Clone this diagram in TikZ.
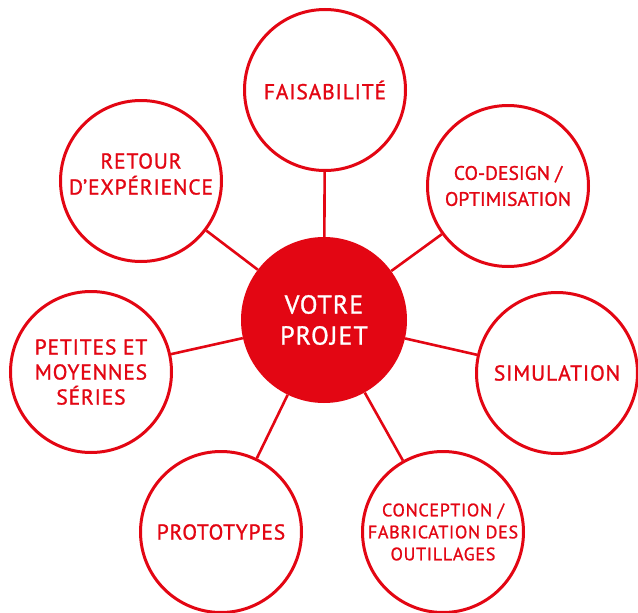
\documentclass[tikz,border=0pt]{standalone}
\usepackage{fontspec}
\setmainfont{PT Sans}[LetterSpace=4,FakeBold=1.1]
\newfontfamily\tightfont{PT Sans}[LetterSpace=0.5,FakeBold=1.1]
\definecolor{brandred}{RGB}{227,6,19}
\begin{document}
\begin{tikzpicture}[x=1pt,y=-1pt,
  outer/.style={circle,draw=brandred,line width=3pt,fill=white,minimum size=161pt,inner sep=0pt,
    text=brandred,align=center,font=\fontsize{21.5}{26}\selectfont},
  txt/.style={text=brandred,align=center,inner sep=0pt,font=\fontsize{21.5}{26}\selectfont},
  hub/.style={circle,fill=brandred,minimum size=166pt,inner sep=0pt,text=white,align=center,
    font=\fontsize{26}{31}\selectfont},
  link/.style={draw=brandred,line width=2.6pt}]
\useasboundingbox (0,0) rectangle (638,613);
\node[hub] (c) at (324,320) {VOTRE\\PROJET};
\node[outer] (fa) at (325,90) {FAISABILITÉ};
\node[outer,font=\tightfont\fontsize{19.5}{26}\selectfont] (co) at (508,186) {CO-DESIGN /\\OPTIMISATION};
\node[outer] (si) at (557,373) {SIMULATION};
\node[outer,font=\fontsize{18}{22}\selectfont] (cf) at (443,532) {CONCEPTION /\\FABRICATION DES\\OUTILLAGES};
\node[outer] (pr) at (221,532) {PROTOTYPES};
\node[outer,font=\fontsize{21.5}{25}\selectfont] (pe) at (91,372) {PETITES ET\\MOYENNES\\SÉRIES};
\node[outer] (re) at (141,181) {};
\node[txt] (ret) at ([yshift=7pt]re.center) {RETOUR\\D’EXPÉRIENCE};
\foreach \n in {fa,co,si,cf,pr,pe,re}{\draw[link] (c) -- (\n);}
\end{tikzpicture}
\end{document}
